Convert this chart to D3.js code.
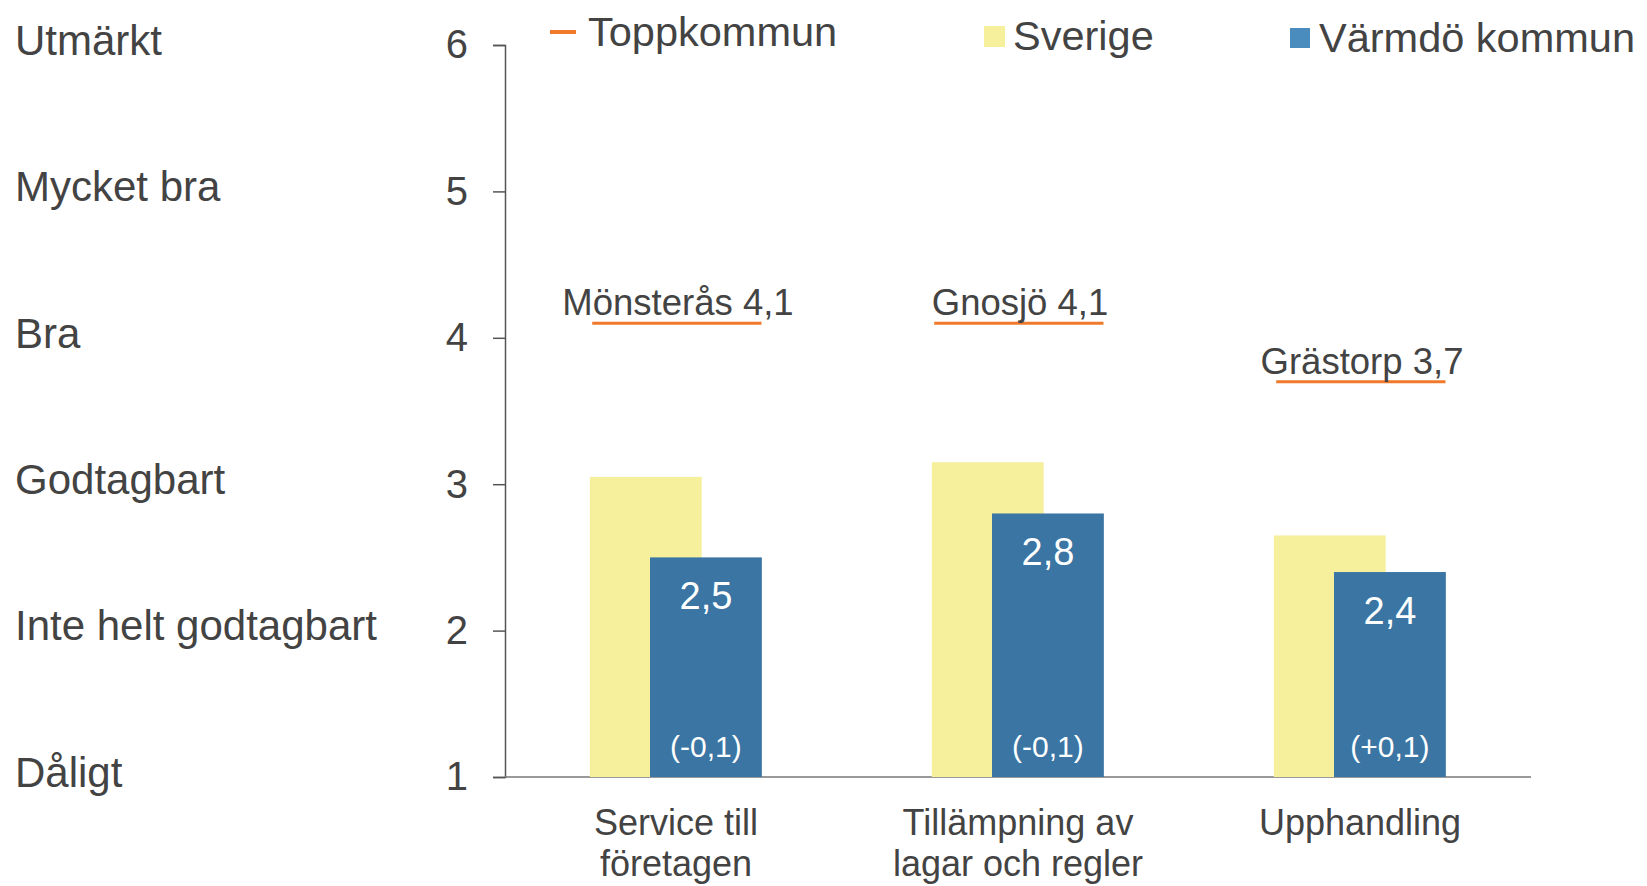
<html>
  <head>
    <title>Värmdö kommun</title>
    <meta charset="utf-8">
    <script src="https://d3js.org/d3.v7.min.js"></script>
    <style>
      body {
        margin: 0;
        background-color: #fff;
        font-family: "Liberation Sans", Arial, sans-serif;
      }
      svg text {
        fill: #434343;
      }
    </style>
  </head>
  <body>
    <svg width="1647" height="886"></svg>

    <script>
      // data
      var categories = ["Service till företagen", "Tillämpning av lagar och regler", "Upphandling"];
      var categoryLines = [["Service till", "företagen"], ["Tillämpning av", "lagar och regler"], ["Upphandling"]];
      var sverige = [3.05, 3.15, 2.65];
      var varmdo = [2.5, 2.8, 2.4];
      var varmdoChange = ["(-0,1)", "(-0,1)", "(+0,1)"];
      var toppNames = ["Mönsterås", "Gnosjö", "Grästorp"];
      var toppValues = [4.1, 4.1, 3.7];
      var yTicks = [1, 2, 3, 4, 5, 6];
      var scaleLabels = ["Dåligt", "Inte helt godtagbart", "Godtagbart", "Bra", "Mycket bra", "Utmärkt"];

      var yellow = "#f6ef9c";
      var blue = "#3a75a3";
      var orange = "#f07a2c";

      var svg = d3.select("svg");
      var fmt = function(v){ return d3.format(".1f")(v).replace(".", ","); };

      var y = d3.scaleLinear().domain([1, 6]).range([777, 45]);
      var x = d3.scaleBand().domain(categories).range([505, 1531]).padding(0);
      var bw = x.bandwidth();
      var barW = bw * 0.327;
      var center = function(c){ return x(c) + bw / 2; };

      // y axis
      var yAxis = svg.append("g")
        .attr("transform", "translate(505,0)")
        .call(d3.axisLeft(y).tickValues(yTicks).tickSize(12).tickSizeOuter(12).tickPadding(25).tickFormat(d3.format("d")));
      yAxis.select(".domain").attr("stroke", "#555").attr("stroke-width", 1.5);
      yAxis.selectAll(".tick line").attr("stroke", "#555").attr("stroke-width", 1.5);
      yAxis.selectAll(".tick text")
        .attr("font-size", 40)
        .attr("font-family", "Liberation Sans, Arial, sans-serif")
        .style("fill", "#434343");

      // scale words on far left
      svg.append("g").selectAll("text")
        .data(yTicks)
        .join("text")
        .attr("x", 15)
        .attr("y", function(d){ return y(d) - 5; })
        .attr("dy", "0.35em")
        .attr("font-size", 42)
        .text(function(d, i){ return scaleLabels[i]; });

      // x axis line
      svg.append("line")
        .attr("x1", 505).attr("x2", x.range()[1])
        .attr("y1", y(1)).attr("y2", y(1))
        .attr("stroke", "#777").attr("stroke-width", 1.5);

      // Sverige bars
      svg.append("g").selectAll("rect")
        .data(categories)
        .join("rect")
        .attr("x", function(c){ return center(c) - bw * 0.252; })
        .attr("y", function(c, i){ return y(sverige[i]); })
        .attr("width", barW)
        .attr("height", function(c, i){ return y(1) - y(sverige[i]); })
        .attr("fill", yellow);

      // Värmdö bars
      var bx = function(c){ return center(c) - bw * 0.076; };
      svg.append("g").selectAll("rect")
        .data(categories)
        .join("rect")
        .attr("x", bx)
        .attr("y", function(c, i){ return y(varmdo[i]); })
        .attr("width", barW)
        .attr("height", function(c, i){ return y(1) - y(varmdo[i]); })
        .attr("fill", blue);

      svg.append("g").selectAll("text")
        .data(categories)
        .join("text")
        .attr("x", function(c){ return bx(c) + barW / 2; })
        .attr("y", function(c, i){ return y(varmdo[i]) + 52; })
        .attr("text-anchor", "middle")
        .attr("font-size", 38)
        .style("fill", "#fff")
        .text(function(c, i){ return fmt(varmdo[i]); });

      svg.append("g").selectAll("text")
        .data(categories)
        .join("text")
        .attr("x", function(c){ return bx(c) + barW / 2; })
        .attr("y", y(1) - 20)
        .attr("text-anchor", "middle")
        .attr("font-size", 30)
        .style("fill", "#fff")
        .text(function(c, i){ return varmdoChange[i]; });

      // Toppkommun lines
      svg.append("g").selectAll("line")
        .data(categories)
        .join("line")
        .attr("x1", function(c){ return center(c) - bw * 0.245; })
        .attr("x2", function(c){ return center(c) + bw * 0.25; })
        .attr("y1", function(c, i){ return y(toppValues[i]); })
        .attr("y2", function(c, i){ return y(toppValues[i]); })
        .attr("stroke", orange)
        .attr("stroke-width", 3);

      svg.append("g").selectAll("text")
        .data(categories)
        .join("text")
        .attr("x", function(c){ return center(c) + 2; })
        .attr("y", function(c, i){ return y(toppValues[i]) - 8; })
        .attr("text-anchor", "middle")
        .attr("font-size", 36.5)
        .text(function(c, i){ return toppNames[i] + " " + fmt(toppValues[i]); });

      // category labels
      svg.append("g").selectAll("text")
        .data(categories)
        .join("text")
        .attr("x", function(c){ return center(c); })
        .attr("y", 835)
        .attr("text-anchor", "middle")
        .attr("font-size", 36)
        .selectAll("tspan")
        .data(function(c, i){ return categoryLines[i]; })
        .join("tspan")
        .attr("x", function(){ return this.parentNode.getAttribute("x"); })
        .attr("dy", function(d, i){ return i ? 41 : 0; })
        .text(function(d){ return d; });

      // legend
      var legend = svg.append("g");
      legend.append("line")
        .attr("x1", 550).attr("x2", 576).attr("y1", 32).attr("y2", 32)
        .attr("stroke", orange).attr("stroke-width", 4);
      legend.append("text").attr("x", 588).attr("y", 46).attr("font-size", 41.5).text("Toppkommun");
      legend.append("rect").attr("x", 984).attr("y", 26).attr("width", 21).attr("height", 21).attr("fill", yellow);
      legend.append("text").attr("x", 1013).attr("y", 50).attr("font-size", 41.5).text("Sverige");
      legend.append("rect").attr("x", 1290).attr("y", 28).attr("width", 20).attr("height", 20).attr("fill", "#4a8cbd");
      legend.append("text").attr("x", 1319).attr("y", 52).attr("font-size", 41.5).text("Värmdö kommun");
    </script>
  </body>
</html>
